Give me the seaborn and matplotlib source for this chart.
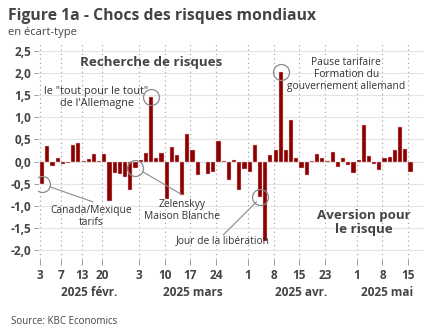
import numpy as np
import pandas as pd
import seaborn as sns
import matplotlib.pyplot as plt
from matplotlib.transforms import blended_transform_factory

# Daily global risk shocks (standard deviations), US trading days
start_date = "2025-02-03"
end_date = "2025-05-16"
market_holidays = ["2025-02-17", "2025-04-18"]
shock_values = [
    -0.50, 0.34, -0.10, 0.07, -0.06, -0.04, 0.38, 0.41, 0.02, 0.05,
    0.18, 0.01, 0.17, -0.88, -0.26, -0.28, -0.35, -0.64, -0.14, 0.03,
    0.20, 1.45, 0.07, 0.20, -0.85, 0.33, 0.15, -0.75, 0.62, 0.26,
    -0.30, 0.00, -0.28, -0.23, 0.47, 0.01, -0.41, 0.04, -0.65, -0.17,
    -0.23, 0.37, -0.79, -1.78, 0.15, 0.26, 2.01, 0.26, 0.94, 0.08,
    -0.15, -0.30, 0.02, 0.17, 0.08, 0.02, 0.22, -0.13, 0.08, -0.08,
    -0.26, 0.04, 0.83, 0.13, -0.05, -0.19, 0.09, 0.11, 0.25, 0.77,
    0.29, -0.24, -0.01,
]
tick_dates = ["2025-02-03", "2025-02-07", "2025-02-13", "2025-02-20",
              "2025-03-03", "2025-03-10", "2025-03-17", "2025-03-24",
              "2025-04-01", "2025-04-08", "2025-04-15", "2025-04-23",
              "2025-05-01", "2025-05-08", "2025-05-15"]
month_labels = ["2025 févr.", "2025 mars", "2025 avr.", "2025 mai"]
y_ticks = [-2.0, -1.5, -1.0, -0.5, 0.0, 0.5, 1.0, 1.5, 2.0, 2.5]

BAR = "#8c0000"
TXT = "#444444"
GREY = "#8a8a8a"

dates = pd.bdate_range(start_date, end_date, freq="C", holidays=market_holidays)
df = pd.DataFrame({"date": dates.strftime("%Y-%m-%d"), "value": shock_values})
pos = {d: i for i, d in enumerate(df["date"])}

sns.set_theme(style="white")
plt.rcParams["font.family"] = ["Open Sans", "DejaVu Sans"]

fig = plt.figure(figsize=(4.32, 3.34), dpi=100)
ax = fig.add_axes([38 / 432, 1 - 259 / 334, 386 / 432, 216 / 334])

BW = 0.8
sns.barplot(data=df, x="date", y="value", color=BAR, saturation=1,
            width=BW, edgecolor="#f0c8c8", linewidth=0.3, ax=ax, zorder=3)

ax.set_xlim(-0.785, 73.6)
ax.set_ylim(-2.196, 2.67)
for s in ax.spines.values():
    s.set_visible(False)
ax.set_xlabel("")
ax.set_ylabel("")

# y axis
ax.set_yticks(y_ticks)
ax.set_yticklabels([f"{v:.1f}".replace(".", ",") for v in y_ticks],
                   fontsize=8.5, fontweight="bold", color=TXT)
ax.yaxis.grid(True, color="#e4e4e4", lw=0.8, zorder=0)
ax.tick_params(axis="y", length=3, width=0.6, color=GREY, pad=2, left=True)

# x axis: ticks at the left edge of each labelled day
tick_idx = [pos[d] for d in tick_dates]
ax.set_xticks([i - BW / 2 for i in tick_idx])
ax.set_xticklabels([str(pd.Timestamp(d).day) for d in tick_dates],
                   fontsize=8.5, fontweight="bold", color=TXT)
ax.tick_params(axis="x", length=4, width=0.6, color=GREY, pad=3, bottom=True)
ax.xaxis.grid(True, color="#9a9a9a", lw=0.8, ls=(0, (1, 3)), zorder=0)

# month labels centred under each month
trans = blended_transform_factory(ax.transData, ax.transAxes)
months = dates.month
for lab, m in zip(month_labels, sorted(set(months))):
    idx = np.where(months == m)[0]
    xc = (idx[0] - BW / 2 + idx[-1] + BW / 2) / 2
    ax.text(xc, -0.157, lab, transform=trans, ha="center", va="center",
            fontsize=8.5, fontweight="bold", color=TXT)

# circled events
def circle(i):
    ax.plot(i, shock_values[i], marker="o", ms=11.5, mfc="none",
            mec=GREY, mew=0.9, zorder=5)

for i in (0, 18, 21, 42, 46):
    circle(i)

ann = dict(fontsize=7.4, color="#333333", ha="center", va="center",
           linespacing=1.15, zorder=6)
ax.plot([1.53, 9.81], [-0.57, -0.91], color=GREY, lw=0.8, zorder=5)
ax.text(9.5, -1.23, "Canada/Mexique\ntarifs", **ann)

ax.plot([19.39, 27.0], [-0.23, -0.75], color=GREY, lw=0.8, zorder=5)
ax.text(26.9, -1.10, "Zelenskyy\nMaison Blanche", **ann)

ax.text(10.5, 1.44, "le \"tout pour le tout\"\nde l'Allemagne",
        **{**ann, "fontsize": 7.8})

ax.plot([41.35, 34.9], [-0.905, -1.655], color=GREY, lw=0.8, zorder=5)
ax.text(34.9, -1.79, "Jour de la libération", **ann)

ax.text(58.6, 1.96, "Pause tarifaire\nFormation du\ngouvernement allemand", **ann)

big = dict(fontsize=9.6, fontweight="bold", color=TXT, ha="center",
           va="center", linespacing=1.1, zorder=6)
ax.text(21.0, 2.22, "Recherche de risques", **big)
ax.text(62.0, -1.37, "Aversion pour\nle risque", **big)

# titles and source
fig.text(8 / 432, 1 - 16 / 334, "Figure 1a - Chocs des risques mondiaux",
         fontsize=11.3, fontweight="bold", color=TXT, ha="left", va="center")
fig.text(8 / 432, 1 - 33 / 334, "en écart-type", fontsize=8,
         color=TXT, ha="left", va="center")
fig.text(11 / 432, 1 - 321 / 334, "Source: KBC Economics", fontsize=7,
         color=TXT, ha="left", va="center")

fig.savefig("out.png", dpi=100)
